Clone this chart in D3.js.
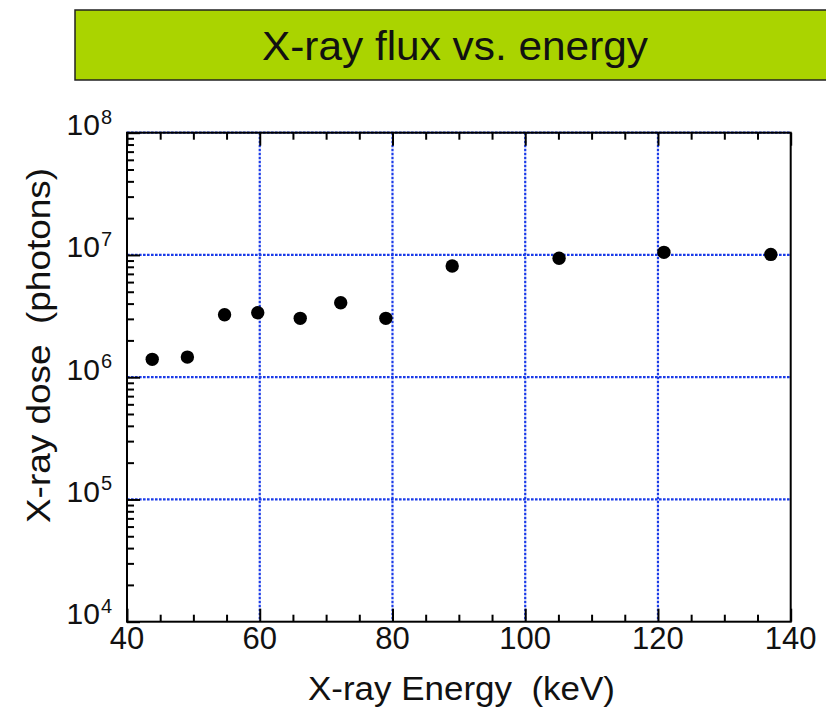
<!DOCTYPE html>
<html>
<head>
<meta charset="utf-8">
<script src="https://cdn.jsdelivr.net/npm/d3@7"></script>
<style>
  html, body { margin: 0; padding: 0; background: #fff; }
  svg { display: block; font-family: "Liberation Sans", Arial, Helvetica, sans-serif; }
</style>
</head>
<body>
<script>
// Measured X-ray energies (keV) and photon doses
const energies = [43.8, 49.1, 54.7, 59.7, 66.1, 72.2, 79.0, 89.0, 105.1, 120.9, 137.0];
const doses = [1.40e6, 1.46e6, 3.24e6, 3.37e6, 3.03e6, 4.07e6, 3.03e6, 8.12e6, 9.39e6, 1.05e7, 1.01e7];

// Axis ticks
const xMajorTicks = [40, 60, 80, 100, 120, 140];
const xGridTicks = [60, 80, 100, 120];
const yDecades = [4, 5, 6, 7, 8];
const yGridDecades = [5, 6, 7, 8];

const titleText = "X-ray flux vs. energy";
const xTitle = "X-ray Energy\u00a0 (keV)";
const yTitle = "X-ray dose\u00a0 (photons)";

const W = 826, H = 710;
const margin = { left: 127, top: 132.7, right: 826 - 790.7, bottom: 710 - 621.7 };
const iw = W - margin.left - margin.right;
const ih = H - margin.top - margin.bottom;

const svg = d3.select("body").append("svg").attr("width", W).attr("height", H);

// Title banner
svg.append("rect")
  .attr("x", 75).attr("y", 10).attr("width", 780).attr("height", 70)
  .attr("fill", "#aad400").attr("stroke", "#222").attr("stroke-width", 1.5);
svg.append("text")
  .attr("x", 455).attr("y", 60)
  .attr("text-anchor", "middle")
  .attr("font-size", 41)
  .attr("fill", "#111")
  .attr("textLength", 386).attr("lengthAdjust", "spacingAndGlyphs")
  .text(titleText);

const x = d3.scaleLinear().domain([40, 140]).range([0, iw]);
const y = d3.scaleLog().domain([1e4, 1e8]).range([ih, 0]);

const g = svg.append("g").attr("transform", `translate(${margin.left},${margin.top})`);

// Dotted grid
const gridColor = "#1a3be8";
g.selectAll("line.vgrid").data(xGridTicks).join("line")
  .attr("class", "vgrid")
  .attr("x1", d => x(d)).attr("x2", d => x(d))
  .attr("y1", 0).attr("y2", ih)
  .attr("stroke", gridColor).attr("stroke-width", 2.2)
  .attr("stroke-dasharray", "2.6,1.4");
g.selectAll("line.hgrid").data(yGridDecades).join("line")
  .attr("class", "hgrid")
  .attr("x1", 0).attr("x2", iw)
  .attr("y1", d => y(Math.pow(10, d))).attr("y2", d => y(Math.pow(10, d)))
  .attr("stroke", gridColor).attr("stroke-width", 2.2)
  .attr("stroke-dasharray", "2.6,1.4");

// Tick helpers
const xMinor = d3.range(40, 141, 5).filter(v => v % 20 !== 0);
const yMinor = [];
for (let e = 4; e < 8; e++) for (let m = 2; m <= 9; m++) yMinor.push(m * Math.pow(10, e));

function styleAxis(sel) {
  sel.select(".domain").remove();
  sel.selectAll(".tick line").attr("stroke", "#000").attr("stroke-width", 2);
  sel.selectAll(".tick text").remove();
}

// Bottom axis ticks (inward)
g.append("g").attr("transform", `translate(0,${ih})`)
  .call(d3.axisBottom(x).tickValues(xMajorTicks).tickSize(-13)).call(styleAxis);
g.append("g").attr("transform", `translate(0,${ih})`)
  .call(d3.axisBottom(x).tickValues(xMinor).tickSize(-7)).call(styleAxis);
// Top axis ticks (inward)
g.append("g")
  .call(d3.axisTop(x).tickValues(xMajorTicks).tickSize(-13)).call(styleAxis);
g.append("g")
  .call(d3.axisTop(x).tickValues(xMinor).tickSize(-7)).call(styleAxis);
// Left axis ticks (inward)
g.append("g")
  .call(d3.axisLeft(y).tickValues(yDecades.map(d => Math.pow(10, d))).tickSize(-13)).call(styleAxis);
g.append("g")
  .call(d3.axisLeft(y).tickValues(yMinor).tickSize(-7)).call(styleAxis);

// Frame
g.append("rect").attr("x", 0).attr("y", 0).attr("width", iw).attr("height", ih)
  .attr("fill", "none").attr("stroke", "#000").attr("stroke-width", 2);

// X tick labels
g.selectAll("text.xlab").data(xMajorTicks).join("text")
  .attr("class", "xlab")
  .attr("x", d => x(d)).attr("y", ih + 27)
  .attr("text-anchor", "middle")
  .attr("font-size", 31).attr("fill", "#111")
  .text(d => d);

// Y tick labels as powers of ten
const ylab = g.selectAll("text.ylab").data(yDecades).join("text")
  .attr("class", "ylab")
  .attr("x", -15).attr("y", d => y(Math.pow(10, d)) + 2.5)
  .attr("text-anchor", "end")
  .attr("font-size", 30).attr("fill", "#111");
ylab.append("tspan").text("10");
ylab.append("tspan").attr("dy", -11.5).attr("dx", 1).attr("font-size", 20).text(d => d);

// Data points
g.selectAll("circle.pt").data(energies.map((e, i) => [e, doses[i]])).join("circle")
  .attr("class", "pt")
  .attr("cx", d => x(d[0])).attr("cy", d => y(d[1]))
  .attr("r", 6.7).attr("fill", "#000");

// Axis titles
svg.append("text")
  .attr("x", 461.5).attr("y", 700)
  .attr("text-anchor", "middle")
  .attr("font-size", 34).attr("fill", "#111")
  .attr("textLength", 307).attr("lengthAdjust", "spacingAndGlyphs")
  .text(xTitle);
svg.append("text")
  .attr("transform", "translate(50,345.5) rotate(-90)")
  .attr("text-anchor", "middle")
  .attr("font-size", 34).attr("fill", "#111")
  .attr("textLength", 355).attr("lengthAdjust", "spacingAndGlyphs")
  .text(yTitle);
</script>
</body>
</html>
